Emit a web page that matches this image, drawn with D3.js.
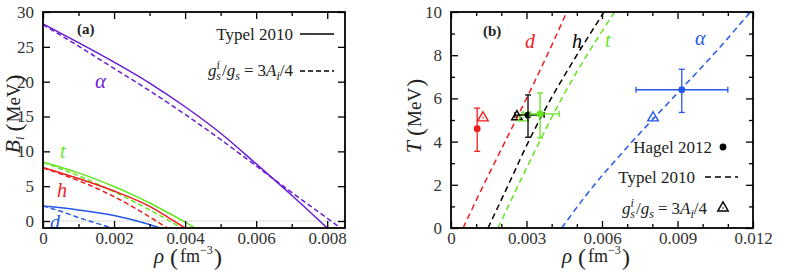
<!DOCTYPE html>
<html>
<head>
<meta charset="utf-8">
<script src="https://cdn.jsdelivr.net/npm/d3@7"></script>
<style>
  body { margin: 0; background: #fff; }
  text { font-family: 'Liberation Serif', 'Times New Roman', 'DejaVu Serif', serif; fill: #222; }
</style>
</head>
<body>
<div id="chart"></div>
<script>
// ---- panel (a): binding energy B_i vs density, [rho, B] pairs ----
var alphaTypel  = [[0, 28.3], [0.001, 25.6], [0.002, 22.8], [0.003, 19.8], [0.004, 16.4], [0.005, 12.6], [0.006, 8.2], [0.007, 3.7], [0.008, -1.0]];
var alphaScaled = [[0, 28.2], [0.001, 25.1], [0.002, 21.9], [0.003, 18.7], [0.004, 15.3], [0.005, 11.7], [0.006, 7.9], [0.007, 4.1], [0.008, 0.4], [0.0084, -1.1]];
var tTypel  = [[0, 8.45], [0.0005, 7.73], [0.001, 6.91], [0.0015, 5.98], [0.002, 4.95], [0.0025, 3.82], [0.003, 2.59], [0.0035, 1.26], [0.004, -0.17], [0.0043, -1.08]];
var tScaled = [[0, 8.4], [0.001, 6.5], [0.002, 4.2], [0.003, 1.6], [0.0036, -0.1], [0.0039, -1.0]];
var hTypel  = [[0, 7.7], [0.001, 6.1], [0.002, 4.3], [0.003, 2.1], [0.0035, 0.6], [0.004, -1.0]];
var hScaled = [[0, 7.6], [0.001, 5.8], [0.002, 3.5], [0.003, 0.6], [0.0035, -1.0]];
var dTypel  = [[0, 2.15], [0.001, 1.6], [0.002, 0.8], [0.003, -0.5], [0.0033, -1.0]];
var dScaled = [[0, 2.15], [0.0005, 1.4], [0.001, 0.5], [0.0015, -0.3], [0.00195, -1.0]];

// ---- panel (b): temperature vs density ----
var tempGrid = [0, 2, 4, 6, 8, 10];
var rhoD     = [0.00048, 0.0013, 0.00215, 0.0030, 0.00382, 0.0046];
var rhoH     = [0.00147, 0.00228, 0.00308, 0.00398, 0.0050, 0.00608];
var rhoT     = [0.00187, 0.00268, 0.00352, 0.0044, 0.0054, 0.0065];
var rhoAlpha = [0.0044, 0.0057, 0.0072, 0.0088, 0.0104, 0.0119];

var species    = ['d', 'h', 't', 'α'];
var hagelRho   = [0.00104, 0.00306, 0.00354, 0.00917];
var hagelRhoLo = [0.00104, 0.00254, 0.00314, 0.00735];
var hagelRhoHi = [0.00104, 0.0037, 0.0043, 0.0110];
var hagelT     = [4.6, 5.23, 5.28, 6.4];
var hagelTLo   = [3.55, 4.2, 4.17, 5.35];
var hagelTHi   = [5.55, 6.16, 6.25, 7.35];
var scaledRho  = [0.00127, 0.00262, 0.00287, 0.00803];
var scaledT    = [5.1, 5.15, 5.1, 5.1];

var purple = '#6a1bd6', green = '#62e61c', red = '#ee1d1d', blue = '#2457ea';
var colorB = [red, '#000', green, blue];

var svg = d3.select('#chart').append('svg')
  .attr('width', 805)
  .attr('height', 274);

var xA = d3.scaleLinear().domain([0, 0.0085]).range([43, 345]);
var yA = d3.scaleLinear().domain([-1, 30]).range([228, 12]);
var xB = d3.scaleLinear().domain([0, 0.012]).range([451, 753]);
var yB = d3.scaleLinear().domain([0, 10]).range([228, 12]);

var fmt = (d) => d === 0 ? '0' : d3.format('.3f')(d);
var serif = "'Liberation Serif', 'Times New Roman', serif";

// inward ticks on all four sides + box
function frame(x, y, xMajor, xMinor, yMajor, yMinor) {
  var left = x.range()[0], right = x.range()[1];
  var top = y.range()[1], bottom = y.range()[0];
  var g = svg.append('g');

  var sides = [
    [d3.axisBottom(x).tickValues(xMajor).tickSizeInner(-7).tickPadding(4).tickFormat(fmt), 'translate(0,' + bottom + ')'],
    [d3.axisBottom(x).tickValues(xMinor).tickSizeInner(-4).tickFormat(''), 'translate(0,' + bottom + ')'],
    [d3.axisTop(x).tickValues(xMajor).tickSizeInner(-7).tickFormat(''), 'translate(0,' + top + ')'],
    [d3.axisTop(x).tickValues(xMinor).tickSizeInner(-4).tickFormat(''), 'translate(0,' + top + ')'],
    [d3.axisLeft(y).tickValues(yMajor).tickSizeInner(-7).tickPadding(9), 'translate(' + left + ',0)'],
    [d3.axisLeft(y).tickValues(yMinor).tickSizeInner(-4).tickFormat(''), 'translate(' + left + ',0)'],
    [d3.axisRight(y).tickValues(yMajor).tickSizeInner(-7).tickFormat(''), 'translate(' + right + ',0)'],
    [d3.axisRight(y).tickValues(yMinor).tickSizeInner(-4).tickFormat(''), 'translate(' + right + ',0)']
  ];
  sides.forEach(function(s) {
    var a = g.append('g').attr('transform', s[1]).call(s[0].tickSizeOuter(0));
    a.attr('font-family', serif);
    a.select('.domain').remove();
    a.selectAll('line').attr('stroke', '#000').attr('stroke-width', 1.3);
    a.selectAll('text')
      .style('font-family', serif)
      .style('font-size', '17px')
      .style('fill', '#333');
  });

  g.append('rect')
    .attr('x', left).attr('y', top)
    .attr('width', right - left).attr('height', bottom - top)
    .attr('fill', 'none')
    .attr('stroke', '#000')
    .attr('stroke-width', 1.8);
}

function clip(id, x, y) {
  svg.append('clipPath').attr('id', id)
    .append('rect')
    .attr('x', x.range()[0]).attr('y', y.range()[1])
    .attr('width', x.range()[1] - x.range()[0])
    .attr('height', y.range()[0] - y.range()[1]);
}
clip('clipA', xA, yA);
clip('clipB', xB, yB);

// ===== panel (a) =====
var marksA = svg.append('g').attr('clip-path', 'url(#clipA)');

marksA.append('line')
  .attr('x1', xA(0)).attr('x2', xA(0.0085))
  .attr('y1', yA(0)).attr('y2', yA(0))
  .attr('stroke', '#aaa')
  .attr('stroke-width', 0.8)
  .attr('stroke-dasharray', '1,1');

var lineA = d3.line()
  .x((d) => xA(d[0]))
  .y((d) => yA(d[1]))
  .curve(d3.curveMonotoneX);

var curvesA = [
  [alphaTypel, purple, null], [alphaScaled, purple, '5,3'],
  [tTypel, green, null], [tScaled, green, '5,3'],
  [hTypel, red, null], [hScaled, red, '5,3'],
  [dTypel, blue, null], [dScaled, blue, '5,3']
];

marksA.selectAll('path.curve')
  .data(curvesA)
  .enter()
  .append('path')
  .attr('class', 'curve')
  .attr('d', (d) => lineA(d[0]))
  .attr('fill', 'none')
  .attr('stroke', (d) => d[1])
  .attr('stroke-width', 1.5)
  .attr('stroke-dasharray', (d) => d[2]);

// curve names in panel (a)
var namesA = [['α', purple, 95, 88, 21], ['t', green, 60, 158, 20], ['h', red, 57, 197, 20], ['d', blue, 50, 229, 20]];
svg.selectAll('text.nameA')
  .data(namesA)
  .enter()
  .append('text')
  .attr('class', 'nameA')
  .attr('x', (d) => d[2]).attr('y', (d) => d[3])
  .style('fill', (d) => d[1])
  .style('font-style', 'italic')
  .style('font-size', (d) => d[4] + 'px')
  .text((d) => d[0]);

frame(xA, yA, [0, 0.002, 0.004, 0.006, 0.008], [0.001, 0.003, 0.005, 0.007],
      [0, 5, 10, 15, 20, 25, 30], []);

svg.append('text').attr('x', 77).attr('y', 34)
  .style('font-weight', 'bold').style('font-size', '15px').text('(a)');

// legend (a)
svg.append('text').attr('x', 293).attr('y', 40)
  .attr('text-anchor', 'end').style('font-size', '17px').text('Typel 2010');
svg.append('line').attr('x1', 300).attr('x2', 334).attr('y1', 34).attr('y2', 34)
  .attr('stroke', '#000').attr('stroke-width', 1.5);

function gLabel(x, y) {
  var t = svg.append('text').attr('x', x).attr('y', y)
    .attr('text-anchor', 'end').style('font-size', '17px');
  t.append('tspan').style('font-style', 'italic').text('g');
  t.append('tspan').style('font-style', 'italic').style('font-size', '12px').attr('dy', -7).text('i');
  t.append('tspan').style('font-style', 'italic').style('font-size', '12px').attr('dx', -3.5).attr('dy', 11).text('s');
  t.append('tspan').attr('dy', -4).attr('dx', 1).text('/');
  t.append('tspan').style('font-style', 'italic').text('g');
  t.append('tspan').style('font-style', 'italic').style('font-size', '12px').attr('dy', 4).text('s');
  t.append('tspan').attr('dy', -4).attr('dx', 4).text('=');
  t.append('tspan').attr('dx', 4).text('3');
  t.append('tspan').style('font-style', 'italic').text('A');
  t.append('tspan').style('font-style', 'italic').style('font-size', '12px').attr('dy', 4).text('i');
  t.append('tspan').attr('dy', -4).text('/4');
}
gLabel(293, 76);
svg.append('line').attr('x1', 300).attr('x2', 334).attr('y1', 71).attr('y2', 71)
  .attr('stroke', '#000').attr('stroke-width', 1.5).attr('stroke-dasharray', '5,3');

// axis titles
function rhoTitle(cx) {
  var t = svg.append('text').attr('x', cx - 40).attr('y', 263).style('font-size', '18px');
  t.append('tspan').style('font-style', 'italic').style('font-size', '21px').text('ρ');
  t.append('tspan').attr('dx', 6).style('font-size', '24px').attr('dy', 2).text('(');
  t.append('tspan').attr('dx', 2).attr('dy', -3).text('fm');
  t.append('tspan').style('font-size', '12px').attr('dy', -8).text('−3');
  t.append('tspan').style('font-size', '24px').attr('dx', 1).attr('dy', 11).text(')');
}
rhoTitle(194);

function yTitle(x, cy, sym, sub) {
  var t = svg.append('text')
    .attr('transform', 'translate(' + x + ',' + cy + ') rotate(-90)')
    .attr('text-anchor', 'middle')
    .style('font-size', '19px');
  t.append('tspan').style('font-style', 'italic').style('font-size', '22px').text(sym);
  if (sub) t.append('tspan').style('font-style', 'italic').style('font-size', '13px').attr('dy', 4).text(sub);
  t.append('tspan').attr('dx', 5).style('font-size', '24px').attr('dy', sub ? -2 : 2).text('(');
  t.append('tspan').attr('dx', 1).attr('dy', -2).text('MeV');
  t.append('tspan').attr('dx', 1).attr('dy', 2).style('font-size', '24px').text(')');
}
yTitle(20, 114, 'B', 'i');

// ===== panel (b) =====
var marksB = svg.append('g').attr('clip-path', 'url(#clipB)');

var lineB = d3.line()
  .x((d) => xB(d[0]))
  .y((d) => yB(d[1]))
  .curve(d3.curveMonotoneY);

var curvesB = [rhoD, rhoH, rhoT, rhoAlpha].map(function(r, i) {
  return { pts: r.map((v, j) => [v, tempGrid[j]]), color: colorB[i] };
});

marksB.selectAll('path.curve')
  .data(curvesB)
  .enter()
  .append('path')
  .attr('class', 'curve')
  .attr('d', (d) => lineB(d.pts))
  .attr('fill', 'none')
  .attr('stroke', (d) => d.color)
  .attr('stroke-width', 1.5)
  .attr('stroke-dasharray', '6,4');

var hagel = species.map(function(s, i) {
  return { name: s, color: colorB[i], rho: hagelRho[i], lo: hagelRhoLo[i], hi: hagelRhoHi[i],
           t: hagelT[i], tlo: hagelTLo[i], thi: hagelTHi[i], srho: scaledRho[i], st: scaledT[i] };
});

var tri = d3.symbol().type(d3.symbolTriangle).size(48);

// triangles (scaled couplings)
var triG = marksB.selectAll('g.tri')
  .data(hagel)
  .enter()
  .append('g')
  .attr('class', 'tri')
  .attr('transform', (d) => 'translate(' + xB(d.srho) + ',' + yB(d.st) + ')');
triG.append('path')
  .attr('d', tri)
  .attr('fill', 'none')
  .attr('stroke', (d) => d.color)
  .attr('stroke-width', 1.4);
triG.append('circle').attr('r', 0.8).attr('fill', (d) => d.color);

// Hagel 2012 points with error bars
var pts = marksB.selectAll('g.pt')
  .data(hagel)
  .enter()
  .append('g')
  .attr('class', 'pt')
  .attr('stroke', (d) => d.color)
  .attr('stroke-width', 1.3);

pts.append('line')
  .attr('x1', (d) => xB(d.rho)).attr('x2', (d) => xB(d.rho))
  .attr('y1', (d) => yB(d.tlo)).attr('y2', (d) => yB(d.thi));
pts.append('line')
  .attr('x1', (d) => xB(d.rho) - 3).attr('x2', (d) => xB(d.rho) + 3)
  .attr('y1', (d) => yB(d.tlo)).attr('y2', (d) => yB(d.tlo));
pts.append('line')
  .attr('x1', (d) => xB(d.rho) - 3).attr('x2', (d) => xB(d.rho) + 3)
  .attr('y1', (d) => yB(d.thi)).attr('y2', (d) => yB(d.thi));
pts.filter((d) => d.hi > d.lo).append('line')
  .attr('x1', (d) => xB(d.lo)).attr('x2', (d) => xB(d.hi))
  .attr('y1', (d) => yB(d.t)).attr('y2', (d) => yB(d.t));
pts.filter((d) => d.hi > d.lo).append('line')
  .attr('x1', (d) => xB(d.lo)).attr('x2', (d) => xB(d.lo))
  .attr('y1', (d) => yB(d.t) - 3).attr('y2', (d) => yB(d.t) + 3);
pts.filter((d) => d.hi > d.lo).append('line')
  .attr('x1', (d) => xB(d.hi)).attr('x2', (d) => xB(d.hi))
  .attr('y1', (d) => yB(d.t) - 3).attr('y2', (d) => yB(d.t) + 3);
pts.append('circle')
  .attr('cx', (d) => xB(d.rho)).attr('cy', (d) => yB(d.t))
  .attr('r', 3.4)
  .attr('stroke', 'none')
  .attr('fill', (d) => d.color);

frame(xB, yB, [0, 0.003, 0.006, 0.009, 0.012], [0.001, 0.002, 0.004, 0.005, 0.007, 0.008, 0.010, 0.011],
      [0, 2, 4, 6, 8, 10], [1, 3, 5, 7, 9]);

svg.append('text').attr('x', 483).attr('y', 36)
  .style('font-weight', 'bold').style('font-size', '15px').text('(b)');

var namesB = [['d', red, 525, 48], ['h', '#000', 572, 48], ['t', green, 605, 47], ['α', blue, 695, 45]];
svg.selectAll('text.nameB')
  .data(namesB)
  .enter()
  .append('text')
  .attr('class', 'nameB')
  .attr('x', (d) => d[2]).attr('y', (d) => d[3])
  .style('fill', (d) => d[1])
  .style('font-style', 'italic')
  .style('font-size', '20px')
  .text((d) => d[0]);

// legend (b)
svg.append('text').attr('x', 712).attr('y', 153)
  .attr('text-anchor', 'end').style('font-size', '17px').text('Hagel 2012');
svg.append('circle').attr('cx', 723).attr('cy', 147).attr('r', 3.4).attr('fill', '#000');
svg.append('text').attr('x', 695).attr('y', 183)
  .attr('text-anchor', 'end').style('font-size', '17px').text('Typel 2010');
svg.append('line').attr('x1', 705).attr('x2', 738).attr('y1', 177).attr('y2', 177)
  .attr('stroke', '#000').attr('stroke-width', 1.5).attr('stroke-dasharray', '6,4');
gLabel(707, 214);
var legTri = svg.append('g').attr('transform', 'translate(723,208)');
legTri.append('path').attr('d', tri).attr('fill', 'none').attr('stroke', '#000').attr('stroke-width', 1.4);
legTri.append('circle').attr('r', 0.8).attr('fill', '#000');

rhoTitle(602);
yTitle(421, 116, 'T', null);
</script>
</body>
</html>
